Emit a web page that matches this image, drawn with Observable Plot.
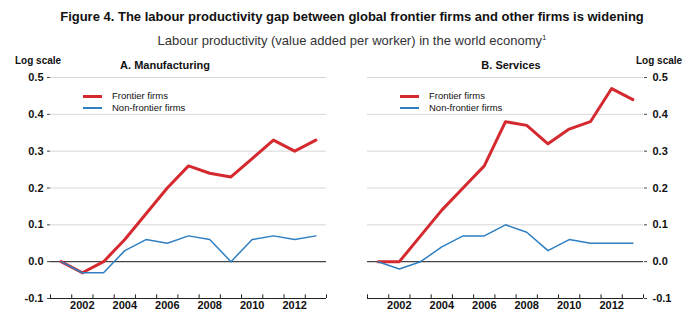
<!DOCTYPE html>
<html><head><meta charset="utf-8">
<script src="https://cdn.jsdelivr.net/npm/d3@7"></script>
<script src="https://cdn.jsdelivr.net/npm/@observablehq/plot@0.6"></script>
<style>
body{margin:0;background:#fff;font-family:"Liberation Sans",Arial,sans-serif;}
#wrap{position:relative;width:696px;height:321px;overflow:hidden;background:#fff}
.abs{position:absolute;white-space:nowrap}
.title{left:0;width:704px;top:9px;text-align:center;font-weight:bold;font-size:13px;color:#111}
.sub{left:0;width:704px;top:33px;text-align:center;font-size:13px;color:#333}
.sub sup{font-size:8px}
.logs{top:55px;font-weight:bold;font-size:10px;color:#111}
.ptitle{top:59px;font-weight:bold;font-size:11px;color:#111;text-align:center;width:160px}
.leg{font-size:9.5px;color:#111;line-height:12px}
.leg .sw{position:absolute;left:0;width:19px}
.leg .tx{position:absolute;left:29px;top:-6px}
.panel{position:absolute;top:50px}
</style></head><body>
<div id="wrap">
<div class="abs title">Figure 4. The labour productivity gap between global frontier firms and other firms is widening</div>
<div class="abs sub">Labour productivity (value added per worker) in the world economy<sup>1</sup></div>
<div class="abs logs" style="left:15px">Log scale</div>
<div class="abs logs" style="left:636px">Log scale</div>
<div class="abs ptitle" style="left:85px">A. Manufacturing</div>
<div class="abs ptitle" style="left:431px">B. Services</div>
<div id="p1" class="panel" style="left:0"></div>
<div id="p2" class="panel" style="left:348px"></div>
<div id="leg1" class="abs leg" style="left:83px;top:96px"></div>
<div id="leg2" class="abs leg" style="left:400px;top:96px"></div>
</div>
<script>
const years = [2001,2002,2003,2004,2005,2006,2007,2008,2009,2010,2011,2012,2013];
const manuFrontier    = [0, -0.03, 0.00, 0.06, 0.13, 0.20, 0.26, 0.24, 0.23, 0.28, 0.33, 0.30, 0.33];
const manuNonFrontier = [0, -0.03, -0.03, 0.03, 0.06, 0.05, 0.07, 0.06, 0.00, 0.06, 0.07, 0.06, 0.07];
const servFrontier    = [0, 0.00, 0.07, 0.14, 0.20, 0.26, 0.38, 0.37, 0.32, 0.36, 0.38, 0.47, 0.44];
const servNonFrontier = [0, -0.02, 0.00, 0.04, 0.07, 0.07, 0.10, 0.08, 0.03, 0.06, 0.05, 0.05, 0.05];
const seriesNames = ["Frontier firms", "Non-frontier firms"];
const xTickLabels = [2002, 2004, 2006, 2008, 2010, 2012];
const yTicks = [-0.1, 0.0, 0.1, 0.2, 0.3, 0.4, 0.5];
const gridValues = [0.1, 0.2, 0.3, 0.4, 0.5];

const RED = "#d42a2f", BLUE = "#2f7fc1";
const tickBounds = [years[0] - 0.5, ...years.map(y => y + 0.5)];
const yMin = yTicks[0], yMax = yTicks[yTicks.length - 1];
const tickLen = 0.01;

function panel(frontier, nonFrontier, left) {
  const rows = years.map((yr, i) => ({year: yr, frontier: frontier[i], non: nonFrontier[i]}));
  return Plot.plot({
    width: 348, height: 271,
    marginTop: 27, marginBottom: 23,
    marginLeft: left ? 50 : 19, marginRight: left ? 22 : 53,
    x: {type: "linear", domain: [tickBounds[0], tickBounds[tickBounds.length - 1]]},
    y: {type: "linear", domain: [yMin, yMax]},
    style: {fontFamily: '"Liberation Sans", Arial, sans-serif', fontSize: "11px", color: "#111", background: "transparent"},
    marks: [
      Plot.ruleY(gridValues, {stroke: "#d6d6d6", strokeWidth: 1}),
      Plot.ruleY([0], {stroke: "#444", strokeWidth: 1.3}),
      Plot.ruleY([yMin], {stroke: "#222", strokeWidth: 1}),
      Plot.ruleX(tickBounds, {x: d => d, y1: yMin, y2: yMin + tickLen, stroke: "#222"}),
      Plot.axisX(xTickLabels, {tickSize: 0, tickPadding: 3, tickFormat: d => String(d), fontWeight: "bold", label: null}),
      Plot.axisY(yTicks, {anchor: left ? "left" : "right", tickSize: 3, tickPadding: left ? 4 : 6,
        tickFormat: d => d.toFixed(1), fontWeight: "bold", label: null, stroke: "#444"}),
      Plot.lineY(rows, {x: "year", y: "frontier", stroke: RED, strokeWidth: 3}),
      Plot.lineY(rows, {x: "year", y: "non", stroke: BLUE, strokeWidth: 1.5})
    ]
  });
}

document.getElementById("p1").append(panel(manuFrontier, manuNonFrontier, true));
document.getElementById("p2").append(panel(servFrontier, servNonFrontier, false));

function legend(el) {
  const colors = [RED, BLUE], widths = [3, 1.5];
  seriesNames.forEach((name, i) => {
    const row = document.createElement("div");
    row.style.position = "absolute";
    row.style.top = (i * 12) + "px";
    row.innerHTML = `<div class="sw" style="top:${-widths[i]/2}px;height:${widths[i]}px;background:${colors[i]}"></div><div class="tx">${name}</div>`;
    el.append(row);
  });
}
legend(document.getElementById("leg1"));
legend(document.getElementById("leg2"));
</script>
</body></html>
